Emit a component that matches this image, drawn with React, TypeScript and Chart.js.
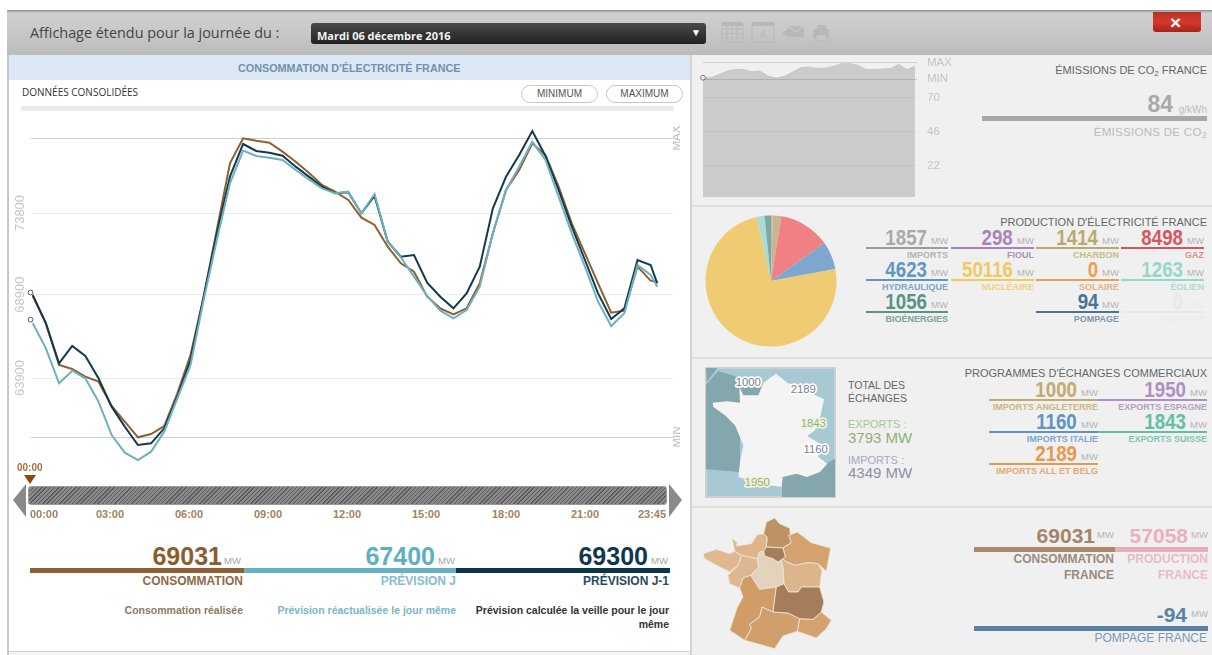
import React, { useEffect, useRef } from "react";
import { Chart, registerables } from "chart.js";

Chart.register(...registerables);

const times = ["00:00","00:30","01:00","01:30","02:00","02:30","03:00","03:30","04:00","04:30","05:00","05:30","06:00","06:30","07:00","07:30","08:00","08:30","09:00","09:30","10:00","10:30","11:00","11:30","12:00","12:30","13:00","13:30","14:00","14:30","15:00","15:30","16:00","16:30","17:00","17:30","18:00","18:30","19:00","19:30","20:00","20:30","21:00","21:30","22:00","22:30","23:00","23:30","23:45"];
const consommation = [68820,67180,64680,64440,63980,63680,62220,61280,60340,60540,61020,62980,65280,68780,72780,76780,78280,78140,78020,77480,76880,76220,75480,75080,74580,73520,73080,71780,70780,70280,68780,68080,67720,68080,69580,72580,75180,76380,77980,77280,75380,73180,71380,69580,67820,67940,70580,69740,69680];
const previsionJ1 = [68880,67180,64780,65820,65220,63880,62180,60980,59880,59980,60880,62780,64980,68780,72580,75980,77940,77520,77420,77240,76580,75980,75380,74980,75040,73780,74820,72080,71180,71280,69620,68780,68080,68980,70580,74080,75980,77280,78720,77220,75180,72980,70980,68980,67440,68080,70980,70680,69580];
const previsionJ = [67180,65680,63580,64340,63880,62480,60480,59420,58980,59480,60680,62680,64680,68580,72180,75580,77540,77220,77120,76980,76380,75820,75280,74980,75080,73780,74940,72080,71140,69980,68820,67940,67480,67980,69380,72580,75180,76580,78080,76980,74780,72580,70580,68480,67020,67780,70680,70080,69380];
const currentValues = [69300, 69031, 67400];
const yTicks = [78300, 73800, 68900, 63900, 60360];
const yTickLabels = ["", "73800", "68900", "63900", ""];
const yRightLabels = ["MAX", "", "", "", "MIN"];

const co2Values = [83.9,83.9,86.3,88.6,89.8,89.6,88.1,88.6,84.9,83.7,84.9,87.9,91,91.4,90.3,90.7,91.9,93.8,93.8,92.6,89.6,89.6,90,90.3,93.3,89.6,91.9];
const co2Labels = co2Values.map((_, i) => String(i));
const co2Ticks = [22, 46, 70, 83, 94.7];
const co2TickLabels = ["22", "46", "70", "MIN", "MAX"];

const pieLabels = ["Fioul", "Charbon", "Gaz", "Hydraulique", "Nucléaire", "Solaire", "Éolien", "Bioénergies"];
const pieValues = [298, 1414, 8498, 4623, 50116, 0, 1263, 1056];
const pieColors = ["#c9b795", "#c9b58f", "#f08083", "#7fa6cf", "#efcb73", "#ef9a4f", "#a5dcd8", "#7ea6a6"];

const sliderLabels = [["00:00", 44], ["03:00", 110], ["06:00", 189], ["09:00", 268], ["12:00", 347], ["15:00", 426], ["18:00", 506], ["21:00", 585], ["23:45", 652]] as const;

const SANS = '"Liberation Sans", Arial, sans-serif';

type TP = { x?: number; r?: number; y: number; s?: number; c?: string; b?: boolean; f?: string; ls?: number; sx?: number; children: React.ReactNode };
function T({ x, r, y, s = 11, c = "#666", b, f = SANS, ls, sx, children }: TP) {
  const st: React.CSSProperties = {
    position: "absolute", top: y, whiteSpace: "nowrap", fontFamily: f, fontSize: s, color: c,
    fontWeight: b ? 700 : 400, lineHeight: 1, letterSpacing: ls,
    transform: `translateY(-50%)${sx ? ` scaleX(${sx})` : ""}`, transformOrigin: "right center",
  };
  if (r !== undefined) st.right = 1212 - r; else st.left = x;
  return <div style={st}>{children}</div>;
}

function Box({ x, y, w, h, bg, style }: { x: number; y: number; w: number; h: number; bg: string; style?: React.CSSProperties }) {
  return <div style={{ position: "absolute", left: x, top: y, width: w, height: h, background: bg, ...style }} />;
}

function Stat({ r, left, bar, value, label, c, lc, bc, h = 2 }: { r: number; left: number; bar: number; value: string; label: string; c: string; lc: string; bc?: string; h?: number }) {
  return (
    <>
      <T r={r - 21} y={bar - 9.5} s={22} b c={c} sx={0.85}>{value}</T>
      <T r={r} y={bar - 6} s={9.5} c={lc === "#ececec" ? "#ececec" : "#b4b4b4"}>MW</T>
      <Box x={left} y={bar} w={r - left} h={h} bg={bc || c} />
      <T r={r} y={bar + 8} s={9} b c={lc}>{label}</T>
    </>
  );
}

function MainChart() {
  const ref = useRef<HTMLCanvasElement>(null);
  useEffect(() => {
    const toXY = (arr: number[]) => arr.map((y, i) => {
      const [hh, mm] = times[i].split(":").map(Number);
      return { x: hh * 60 + mm, y };
    });
    const chart = new Chart(ref.current!, {
      type: "line",
      data: {
        datasets: [
          { label: "Prévision J", data: toXY(previsionJ), borderColor: "#6db1bf", borderWidth: 2, pointRadius: 0, tension: 0, clip: false },
          { label: "Prévision J-1", data: toXY(previsionJ1), borderColor: "#123a4e", borderWidth: 2, pointRadius: 0, tension: 0, clip: false },
          { label: "Consommation", data: toXY(consommation), borderColor: "#8f5f33", borderWidth: 2, pointRadius: 0, tension: 0, clip: false },
          { label: "Instant", data: currentValues.map((y) => ({ x: -5, y })), showLine: false, pointRadius: 2.4, pointBorderWidth: 1, pointBorderColor: "#555", pointBackgroundColor: "#fff", clip: false },
        ],
      } as any,
      options: {
        responsive: false, animation: false,
        layout: { padding: { top: 28, bottom: 33, left: 0, right: 0 } },
        plugins: { legend: { display: false }, tooltip: { enabled: false } },
        scales: {
          x: { type: "linear", min: -4, max: 1461, display: false },
          y: {
            position: "left", min: 60360, max: 78300,
            afterBuildTicks: (s: any) => { s.ticks = yTicks.map((value) => ({ value })); },
            afterFit: (s: any) => { s.width = 19; },
            border: { display: false },
            grid: { drawTicks: false, color: (c: any) => (c.tick && (c.tick.value === 78300 || c.tick.value === 60360) ? "#cfcfcf" : "#ececec"), lineWidth: 1 },
            ticks: {
              autoSkip: false, minRotation: 90, maxRotation: 90, crossAlign: "center", padding: -7,
              color: "#c6c6c6", font: { family: SANS, size: 13 },
              callback: (v: any) => yTickLabels[yTicks.indexOf(Number(v))] ?? "",
            },
          },
          y1: {
            position: "right", min: 60360, max: 78300,
            afterBuildTicks: (s: any) => { s.ticks = yTicks.map((value) => ({ value })); },
            afterFit: (s: any) => { s.width = 17; },
            border: { display: false },
            grid: { display: false, drawTicks: false },
            ticks: {
              autoSkip: false, minRotation: 90, maxRotation: 90, crossAlign: "center", padding: -9,
              color: "#bdbdbd", font: { family: SANS, size: 11.5 },
              callback: (v: any) => yRightLabels[yTicks.indexOf(Number(v))] ?? "",
            },
          },
        },
      } as any,
    });
    return () => chart.destroy();
  }, []);
  return <canvas ref={ref} width={678} height={360} style={{ position: "absolute", left: 12, top: 110, width: 678, height: 360 }} />;
}

function Co2Chart() {
  const ref = useRef<HTMLCanvasElement>(null);
  useEffect(() => {
    const chart = new Chart(ref.current!, {
      type: "line",
      data: {
        labels: co2Labels,
        datasets: [{
          label: "CO2", data: co2Values, borderColor: "#c4c4c4", borderWidth: 1, backgroundColor: "#cbcbcb", fill: "origin", tension: 0, clip: false,
          pointRadius: co2Values.map((_, i) => (i === 0 ? 2.4 : 0)), pointBorderWidth: 1, pointBorderColor: "#777", pointBackgroundColor: "#eee",
        }],
      },
      options: {
        responsive: false, animation: false,
        layout: { padding: { top: 0, bottom: 0, left: 6, right: 0 } },
        plugins: { legend: { display: false }, tooltip: { enabled: false } },
        scales: {
          x: { display: false, offset: false },
          y: {
            position: "right", min: 0, max: 100,
            afterBuildTicks: (s: any) => { s.ticks = co2Ticks.map((value) => ({ value })); },
            afterFit: (s: any) => { s.width = 45; },
            border: { display: false },
            grid: { z: 1, tickLength: 2, color: (c: any) => (c.tick && c.tick.value > 80 ? "rgba(0,0,0,0.13)" : "rgba(0,0,0,0.035)") },
            ticks: {
              autoSkip: false, padding: 10, color: "#c4c4c4", font: { family: SANS, size: 11.5 },
              callback: (v: any) => co2TickLabels[co2Ticks.indexOf(Number(v))] ?? "",
            },
          },
        },
      } as any,
    });
    return () => chart.destroy();
  }, []);
  return <canvas ref={ref} width={263} height={176} style={{ position: "absolute", left: 697, top: 38, width: 263, height: 176 }} />;
}

function PieChart() {
  const ref = useRef<HTMLCanvasElement>(null);
  useEffect(() => {
    const chart = new Chart(ref.current!, {
      type: "pie",
      data: { labels: pieLabels, datasets: [{ data: pieValues, backgroundColor: pieColors, borderWidth: 0 }] },
      options: {
        responsive: false, animation: false, radius: 65.5,
        plugins: { legend: { display: false }, tooltip: { enabled: false } },
      } as any,
    });
    return () => chart.destroy();
  }, []);
  return <canvas ref={ref} width={140} height={140} style={{ position: "absolute", left: 701, top: 211, width: 140, height: 140 }} />;
}

const france = "228,35 262,62 290,72 325,90 372,112 362,160 345,205 322,222 360,245 355,285 382,305 360,330 320,345 290,335 248,345 245,375 200,368 165,360 115,345 120,300 130,250 105,190 75,160 40,135 38,122 80,118 120,122 118,75 130,100 175,100 190,62";

function ExchangeMap() {
  const lab = (t: string, x: number, y: number, c: string, halo = "#fff") => (
    <text x={x} y={y} textAnchor="middle" dominantBaseline="middle" fontFamily={SANS} fontSize={34} fill={c} stroke={halo} strokeWidth={10} paintOrder="stroke" strokeLinejoin="round">{t}</text>
  );
  return (
    <svg viewBox="0 0 426 426" width={142} height={142} style={{ position: "absolute", left: 700, top: 362 }}>
      <rect x={18} y={18} width={387} height={387} fill="#a6c9d3" stroke="#cfcfd4" strokeWidth={6} />
      <polygon points="18,18 52,18 20,60" fill="#84a6ad" />
      <polygon points="18,68 55,28 105,42 125,65 190,65 190,105 120,150 120,330 18,322" fill="#84a6ad" />
      <polygon points="246,405 246,345 290,330 350,320 405,290 405,405" fill="#84a6ad" />
      <polygon points={france} fill="#f4f4f4" />
      {lab("1000", 145, 62, "#6f7f8a")}
      {lab("2189", 310, 85, "#7d7d9c")}
      {lab("1843", 340, 187, "#8fb377", "#eef3e6")}
      {lab("1160", 347, 265, "#7d7d9c")}
      {lab("1950", 172, 362, "#98ad72", "#f2f2dc")}
    </svg>
  );
}

const regions: [string, string][] = [
  ["#bd9265", "230,18 245,35 275,48 280,92 255,108 205,105 207,75 197,65 205,30"],
  ["#d4a26f", "298,60 340,92 398,108 385,178 360,155 330,152 290,160 262,148 248,135 262,135 255,108 280,92 272,70"],
  ["#dfb48b", "102,78 118,92 115,102 160,95 178,68 197,65 207,75 205,105 197,118 185,120 178,140 130,130 110,118"],
  ["#e0b88f", "15,125 55,112 95,125 110,118 130,130 122,158 95,180 65,165 20,140"],
  ["#deb792", "130,130 178,140 182,165 158,190 135,198 125,228 95,215 90,190 122,158"],
  ["#e4d2bc", "185,120 197,118 200,132 225,140 240,150 248,135 255,165 258,215 235,225 185,232 158,190 182,165 178,140"],
  ["#dcb58d", "248,135 262,148 290,160 330,152 360,155 372,175 365,225 310,225 300,240 272,240 258,215 255,165"],
  ["#d09d68", "135,198 158,190 185,232 235,225 225,300 192,285 185,315 155,337 160,350 140,385 95,355 118,285 135,255 125,228"],
  ["#d09f6b", "192,285 225,300 270,303 305,320 298,358 255,372 230,410 195,400 140,385 160,350 155,337 185,315"],
  ["#d5a16e", "305,320 345,322 370,300 400,325 385,350 355,378 298,358"],
  ["#a67d5a", "235,225 258,215 272,240 300,240 310,225 365,225 378,270 370,300 345,322 305,320 270,303 225,300"],
  ["#a77d58", "205,105 255,108 262,135 240,150 225,140 200,132 197,118"],
];

function RegionMap() {
  return (
    <svg viewBox="0 0 435 429" width={145} height={143} style={{ position: "absolute", left: 698, top: 512 }}>
      {regions.map(([c, p], i) => <polygon key={i} points={p} fill={c} stroke="#f0e6da" strokeWidth={2.5} strokeLinejoin="round" />)}
    </svg>
  );
}

function Icons() {
  const g = "#b8b8b8";
  return (
    <svg width={120} height={26} style={{ position: "absolute", left: 718, top: 20 }}>
      <g fill="none" stroke={g} strokeWidth={1}>
        <rect x={4} y={4} width={21} height={18} />
        <path d="M4 9H25M4 13.5H25M4 18H25M9 4V22M14 4V22M19 4V22" />
        <rect x={34} y={4} width={22} height={18} />
      </g>
      <rect x={4} y={2} width={21} height={4} fill={g} />
      <rect x={34} y={2} width={22} height={4} fill={g} />
      <text x={45} y={18} textAnchor="middle" fontFamily={SANS} fontSize={10} fill={g}>A</text>
      <polygon points="64,13 72,8 72,18" fill={g} />
      <rect x={70} y={6} width={16} height={11} fill={g} />
      <path d="M70 6L78 12L86 6" fill="none" stroke="#d0d0d0" />
      <rect x={99} y={5} width={9} height={5} fill={g} />
      <rect x={95} y={9} width={16} height={9} fill={g} />
      <rect x={98} y={15} width={10} height={6} fill="#c8c8c8" stroke={g} />
    </svg>
  );
}

export default function App() {
  useEffect(() => { document.body.style.margin = "0"; }, []);
  return (
    <div style={{ position: "absolute", left: 0, top: 0, width: 1212, height: 655, overflow: "hidden", background: "#fff", filter: "blur(0.5px)" }}>
      {/* frames */}
      <Box x={7} y={10} w={1205} h={45} bg="linear-gradient(#8f8f8f 0,#cfcfcf 3px,#c8c8c8 50%,#bababa 100%)" />
      <Box x={7} y={55} w={2} h={600} bg="#c6c6c6" />
      <Box x={690} y={55} w={522} h={600} bg="#f0f0f0" />
      <Box x={690} y={55} w={2} h={600} bg="#d4d4d4" />
      <Box x={9} y={651} w={681} h={1} bg="#d0d0d0" />
      <Box x={9} y={652} w={681} h={3} bg="#f4f4f4" />
      <Box x={692} y={205} w={520} h={2} bg="#dedede" />
      <Box x={692} y={357} w={520} h={2} bg="#dedede" />
      <Box x={692} y={506} w={520} h={2} bg="#dedede" />

      {/* header */}
      <T x={30} y={33} s={14.4} c="#444" f='"Open Sans", sans-serif'>Affichage étendu pour la journée du :</T>
      <Box x={311} y={23} w={395} h={21} bg="linear-gradient(#4a4a4a,#222)" style={{ borderRadius: 3 }} />
      <T x={317} y={34.5} s={11} b c="#f2f2f2" f='"Open Sans", sans-serif'>Mardi 06 décembre 2016</T>
      <T x={691} y={33} s={10} c="#fff">▼</T>
      <Icons />
      <Box x={1153} y={12} w={48} h={20} bg="linear-gradient(#b53226,#d8392c 50%,#a82218)" style={{ borderRadius: "0 0 3px 3px" }} />
      <T x={1170} y={21.5} s={19} b c="#fff">×</T>

      {/* left panel */}
      <Box x={9} y={55} w={681} h={25} bg="#dde8f5" />
      <T x={238} y={68} s={10.8} b c="#7390ab">CONSOMMATION D'ÉLECTRICITÉ FRANCE</T>
      <T x={22} y={92} s={10} c="#333" f='"Open Sans", sans-serif'>DONNÉES CONSOLIDÉES</T>
      {[[521, "MINIMUM"], [606, "MAXIMUM"]].map(([x, t]) => (
        <div key={t as string} style={{ position: "absolute", left: x as number, top: 85, width: 75, height: 16, border: "1px solid #c8c8c8", borderRadius: 9, textAlign: "center", fontFamily: SANS, fontSize: 10, lineHeight: "16px", color: "#555", background: "#fff" }}>{t}</div>
      ))}
      <Box x={21} y={106} w={653} h={5} bg="#ebebeb" />
      <MainChart />

      {/* slider */}
      <T x={17} y={468} s={10} b c="#a5713c">00:00</T>
      <svg width={14} height={10} style={{ position: "absolute", left: 24, top: 475 }}><polygon points="0,0 12,0 6,9" fill="#8b4a10" /></svg>
      <Box x={28} y={486} w={639} h={19} bg="repeating-linear-gradient(135deg,#5c5c5c 0 1px,#8a8a8a 1px 3px)" style={{ borderRadius: 3, boxSizing: "border-box", border: "1px solid #9a9a9a" }} />
      <svg width={16} height={34} style={{ position: "absolute", left: 12, top: 484 }}><polygon points="14,0 14,33 1,16" fill="#8a8a8a" /></svg>
      <svg width={16} height={34} style={{ position: "absolute", left: 668, top: 484 }}><polygon points="1,0 1,33 14,16" fill="#8a8a8a" /></svg>
      {sliderLabels.map(([t, x]) => (
        <div key={t} style={{ position: "absolute", left: x - 20, width: 40, top: 508, textAlign: "center", fontFamily: SANS, fontSize: 11, fontWeight: 700, color: "#a5825c", lineHeight: "12px" }}>{t}</div>
      ))}

      {/* main legend */}
      <T r={222} y={556} s={25} b c="#8c5c30">69031</T>
      <T r={241} y={561} s={9.5} c="#a5a5a5">MW</T>
      <T r={435} y={556} s={25} b c="#5eb0bf">67400</T>
      <T r={455} y={561} s={9.5} c="#a5a5a5">MW</T>
      <T r={648} y={556} s={25} b c="#10384d">69300</T>
      <T r={668} y={561} s={9.5} c="#a5a5a5">MW</T>
      <Box x={30} y={568} w={214} h={5} bg="#8f5f33" />
      <Box x={244} y={568} w={212} h={5} bg="#67b0c6" />
      <Box x={456} y={568} w={214} h={5} bg="#0c3549" />
      <T r={243} y={581} s={12} b c="#8c6a48">CONSOMMATION</T>
      <T r={456} y={581} s={12} b c="#86bdcf">PRÉVISION J</T>
      <T r={669} y={581} s={12} b c="#2b4a5c">PRÉVISION J-1</T>
      <T r={243} y={610} s={10.5} b c="#8d7a60">Consommation réalisée</T>
      <T r={456} y={610} s={10.5} b c="#7ab5c8">Prévision réactualisée le jour même</T>
      <T r={669} y={610} s={10.5} b c="#333">Prévision calculée la veille pour le jour</T>
      <T r={669} y={624} s={10.5} b c="#333">même</T>

      {/* row 1 */}
      <Co2Chart />
      <T r={1207} y={71} s={11} c="#666">ÉMISSIONS DE CO<span style={{ fontSize: 8, verticalAlign: -2 }}>2</span> FRANCE</T>
      <T r={1173} y={104} s={23} b c="#a9a9a9">84</T>
      <T r={1207} y={110} s={10} c="#bdbdbd">g/kWh</T>
      <Box x={982} y={116} w={225} h={5} bg="#a8a8a8" />
      <T r={1207} y={133} s={11.5} c="#bbb" ls={0.3}>ÉMISSIONS DE CO<span style={{ fontSize: 9, verticalAlign: -2 }}>2</span></T>

      {/* row 2 */}
      <PieChart />
      <T r={1207} y={222} s={11} c="#666">PRODUCTION D'ÉLECTRICITÉ FRANCE</T>
      <Stat r={948} left={866} bar={247} value="1857" label="IMPORTS" c="#a9a9a9" lc="#b4b4b4" bc="#9c9c9c" />
      <Stat r={1034} left={951} bar={247} value="298" label="FIOUL" c="#a884b8" lc="#a994b8" />
      <Stat r={1119} left={1036} bar={247} value="1414" label="CHARBON" c="#b9a96d" lc="#c6bb85" />
      <Stat r={1204} left={1121} bar={247} value="8498" label="GAZ" c="#d6565f" lc="#e08a8c" />
      <Stat r={948} left={866} bar={279} value="4623" label="HYDRAULIQUE" c="#5f96c4" lc="#7ba6c8" />
      <Stat r={1034} left={951} bar={279} value="50116" label="NUCLÉAIRE" c="#efcb5f" lc="#eed27c" />
      <Stat r={1119} left={1036} bar={279} value="0" label="SOLAIRE" c="#ef9d55" lc="#e6b183" />
      <Stat r={1204} left={1121} bar={279} value="1263" label="ÉOLIEN" c="#94d8c9" lc="#aedcd1" />
      <Stat r={948} left={866} bar={311} value="1056" label="BIOÉNERGIES" c="#5b9485" lc="#7aa39a" />
      <Stat r={1119} left={1036} bar={311} value="94" label="POMPAGE" c="#4b7396" lc="#7f99ad" />
      <Stat r={1204} left={1121} bar={311} value="0" label="EXPORTS" c="#e8e8e8" lc="#ececec" />

      {/* row 3 */}
      <ExchangeMap />
      <T x={848} y={385} s={10.5} c="#666">TOTAL DES</T>
      <T x={848} y={398} s={10.5} c="#666">ÉCHANGES</T>
      <T x={848} y={424} s={11} c="#a3c78f">EXPORTS :</T>
      <T x={848} y={437} s={15} c="#8cb07a">3793 MW</T>
      <T x={848} y={460} s={11} c="#a3a9c2">IMPORTS :</T>
      <T x={848} y={472} s={15} c="#8a90aa">4349 MW</T>
      <T r={1207} y={373} s={11} c="#666">PROGRAMMES D'ÉCHANGES COMMERCIAUX</T>
      <Stat r={1098} left={989} bar={399} value="1000" label="IMPORTS ANGLETERRE" c="#c2ab6d" lc="#c9b781" />
      <Stat r={1207} left={1098} bar={399} value="1950" label="EXPORTS ESPAGNE" c="#b08fc2" lc="#b3a0c4" />
      <Stat r={1098} left={989} bar={431} value="1160" label="IMPORTS ITALIE" c="#5f93c4" lc="#7ea7cb" />
      <Stat r={1207} left={1098} bar={431} value="1843" label="EXPORTS SUISSE" c="#62bfa3" lc="#7fc6b0" />
      <Stat r={1098} left={989} bar={463} value="2189" label="IMPORTS ALL ET BELG" c="#e8984f" lc="#e3a877" />

      {/* row 4 */}
      <RegionMap />
      <T r={1095} y={535} s={21} b c="#a5856a">69031</T>
      <T r={1114} y={535} s={9.5} c="#b4b4b4">MW</T>
      <T r={1188} y={535} s={21} b c="#eab0bd">57058</T>
      <T r={1208} y={535} s={9.5} c="#c4b4b4">MW</T>
      <Box x={974} y={547} w={141} h={5} bg="#a98a6d" />
      <Box x={1115} y={547} w={93} h={5} bg="#e8aeb8" />
      <T r={1114} y={559} s={12} b c="#9b8b7b">CONSOMMATION</T>
      <T r={1114} y={575} s={12} b c="#9b8b7b">FRANCE</T>
      <T r={1208} y={559} s={12} b c="#e8bcc6">PRODUCTION</T>
      <T r={1208} y={575} s={12} b c="#e8bcc6">FRANCE</T>
      <T r={1187} y={614} s={21} b c="#5a82a4">-94</T>
      <T r={1208} y={614} s={9.5} c="#b4b4b4">MW</T>
      <Box x={974} y={626} w={234} h={5} bg="#5a82a4" />
      <T r={1207} y={638} s={12} c="#7a9ab5">POMPAGE FRANCE</T>
    </div>
  );
}
